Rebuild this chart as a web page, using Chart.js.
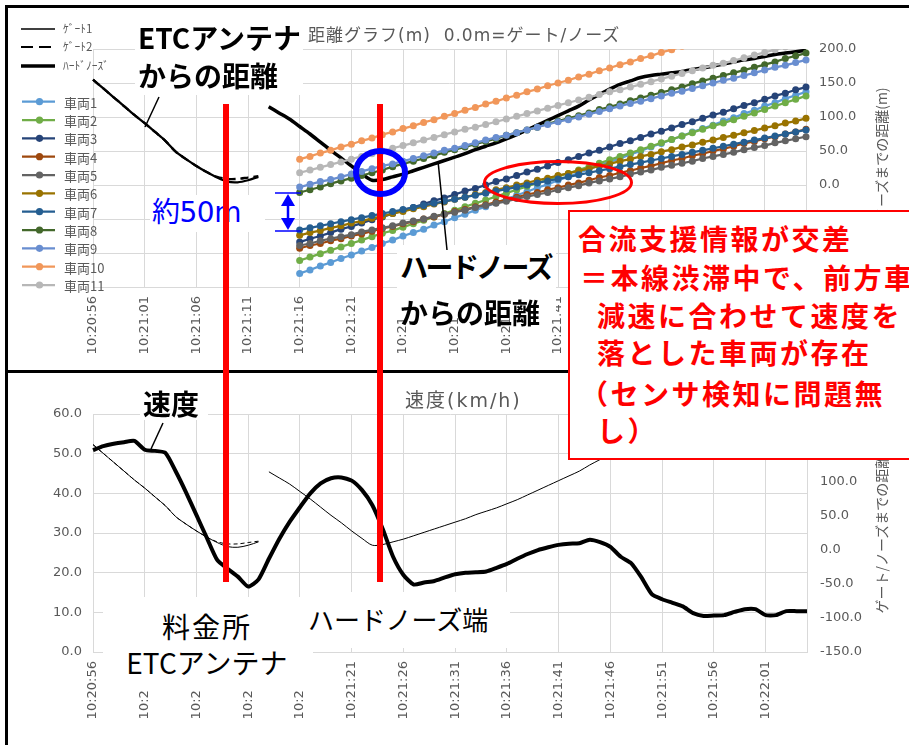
<!DOCTYPE html>
<html>
<head>
<meta charset="utf-8">
<title>距離グラフ / 速度</title>
<script src="https://cdn.jsdelivr.net/npm/chart.js@4.4.1/dist/chart.umd.min.js"></script>
<style>
    body { margin: 0; width: 909px; height: 745px; overflow: hidden; background: #fff; position: relative;
        font-family: "Noto Sans CJK JP", sans-serif; }
    canvas { position: absolute; left: 0; z-index: 0; }
    #topChart { top: 0; }
    #bottomChart { top: 372px; }
    .frame { position: absolute; background: #000; z-index: 1; }
    .box { position: absolute; background: #fff; z-index: 2; }
    .txt { position: absolute; white-space: nowrap; line-height: 1; z-index: 2; }
    svg { position: absolute; left: 0; top: 0; z-index: 3; }
    .redbox { position: absolute; left: 568px; top: 210px; width: 360px; height: 246px;
        border: 2px solid #ff0000; background: #fff; z-index: 4; }
    .red { color: #ff0000; font-weight: 700; font-size: 28px; letter-spacing: 2.5px; z-index: 5; }
</style>
</head>
<body>
<canvas id="topChart" width="909" height="372"></canvas>
<canvas id="bottomChart" width="909" height="373"></canvas>
<div id="overlay"></div>

<script>
'use strict';

// 時刻ラベル 10:20:56 から 1 秒ごと
const times = [];
for (let s = 0; s < 70; s++) {
    const sec = 56 + s;
    times.push('10:' + (20 + Math.floor(sec / 60)) + ':' + String(sec % 60).padStart(2, '0'));
}

// ゲート/ノーズまでの距離(m)
const gate1 = [155, 142, 129, 116, 103, 91, 78, 65, 49, 38, 28, 19, 11, 5, 4, 7, 12];
const gate2 = [155, 142, 129, 116, 103, 91, 78, 65, 49, 38, 28, 19, 12, 9, 9, 11, 13];
const hardNose = [115, 106, 97, 86, 75, 63, 51, 40, 28, 17, 7, 8, 12, 16, 21, 26, 31, 36, 41, 46,
    52, 57, 62, 68, 74, 81, 88, 95, 102, 109, 116, 125, 133, 141, 148, 153, 158, 161, 163, 165,
    167, 170, 172, 175, 178, 181, 184, 186, 189, 192, 194, 196, 198];

// 車両の距離(m) 10:21:16 から
const car1 = [-130, -125, -119, -114, -108, -103, -97, -92, -86, -81, -75, -70, -65, -59, -54, -48, -43, -37, -32, -26,
    -21, -15, -10, -4, 1, 7, 12, 18, 23, 29, 34, 39, 45, 50, 56, 61, 67, 72, 78, 83,
    88, 94, 99, 105, 110, 116, 121, 127, 132, 137];
const car2 = [-111, -106, -101, -96, -91, -86, -81, -76, -71, -67, -62, -57, -52, -47, -42, -37, -32, -27, -22, -17,
    -12, -7, -2, 3, 8, 13, 17, 22, 27, 32, 37, 42, 47, 52, 57, 62, 67, 72, 77, 82,
    87, 91, 96, 101, 106, 111, 116, 121, 126, 131];
const car3 = [-84, -79, -75, -70, -65, -61, -56, -51, -47, -42, -37, -33, -28, -23, -19, -14, -9, -5, 0, 5,
    9, 14, 19, 23, 28, 33, 37, 42, 47, 51, 56, 61, 65, 70, 75, 79, 84, 89, 93, 98,
    103, 107, 112, 117, 121, 126, 131, 135, 140, 144];
const car4 = [-93, -89, -86, -82, -79, -75, -72, -68, -64, -61, -57, -54, -50, -47, -43, -39, -36, -32, -29, -25,
    -22, -18, -14, -11, -7, -4, 0, 3, 7, 11, 14, 18, 21, 25, 28, 32, 36, 39, 43, 46,
    50, 53, 57, 61, 64, 68, 71, 75, 78, 82];
const car5 = [-89, -86, -82, -79, -76, -73, -69, -66, -63, -60, -56, -53, -50, -46, -43, -40, -37, -33, -30, -27,
    -24, -20, -17, -14, -11, -7, -4, -1, 3, 6, 9, 12, 16, 19, 22, 26, 29, 32, 35, 39,
    42, 45, 48, 52, 55, 58, 62, 65, 68, 71];
const car6 = [-74, -70, -67, -63, -60, -56, -53, -49, -46, -42, -39, -35, -32, -28, -25, -21, -18, -14, -11, -7,
    -4, 0, 3, 7, 10, 14, 17, 21, 24, 28, 31, 35, 38, 42, 45, 49, 52, 56, 59, 63,
    66, 70, 73, 77, 80, 84, 87, 91, 94, 98];
const car7 = [-66, -63, -60, -57, -54, -51, -48, -45, -42, -39, -36, -33, -30, -27, -24, -21, -18, -15, -12, -9,
    -6, -3, 0, 3, 6, 9, 12, 15, 18, 21, 24, 27, 30, 33, 36, 39, 42, 45, 48, 51,
    54, 57, 60, 63, 66, 69, 72, 75, 78, 81];
const car8 = [-11, -7, -3, 2, 6, 10, 14, 18, 22, 27, 31, 35, 39, 43, 48, 52, 56, 60, 64, 68,
    73, 77, 81, 85, 90, 94, 98, 102, 106, 111, 115, 119, 124, 128, 132, 136, 140, 144, 149, 153,
    157, 161, 165, 169, 173, 177, 181, 186, 190, 194];
const car9 = [-3, 1, 5, 8, 12, 16, 20, 24, 28, 31, 35, 39, 43, 47, 51, 54, 58, 62, 66, 70,
    73, 77, 81, 85, 89, 93, 96, 100, 104, 108, 112, 116, 120, 123, 127, 131, 135, 138, 142, 146,
    150, 154, 157, 161, 165, 169, 173, 176, 180, 184];
const car10 = [38, 42, 47, 51, 56, 60, 65, 69, 74, 78, 83, 87, 92, 96, 101, 105, 110, 114, 119, 123,
    128, 132, 137, 141, 146, 150, 154, 159, 163, 168, 172, 177, 181, 186, 190, 195, 199, 204, 208, 213,
    217, 222, 226, 231, 235, 240, 244, 249, 253, 258];
const car11 = [18, 22, 26, 30, 34, 38, 42, 46, 50, 54, 58, 62, 66, 70, 74, 78, 82, 85, 89, 93,
    97, 101, 105, 109, 113, 117, 121, 125, 129, 133, 137, 140, 144, 148, 152, 156, 160, 164, 168, 172,
    176, 179, 183, 187, 191, 195, 199, 203, 207, 211];

const cars = [car1, car2, car3, car4, car5, car6, car7, car8, car9, car10, car11];
const carNames = ['車両1', '車両2', '車両3', '車両4', '車両5', '車両6', '車両7', '車両8', '車両9', '車両10', '車両11'];
const carColors = ['#5b9bd5', '#70ad47', '#264478', '#9e480e', '#636363', '#997300',
    '#255e91', '#43682b', '#698ed0', '#f1975a', '#b7b7b7'];

// 速度(km/h)
const speed = [50.9, 51.9, 52.5, 52.9, 53.2, 51.0, 50.7, 50.2, 45.5, 40.2, 34.5, 28.8, 23.2, 21.0, 19.0, 16.5, 18.3, 23.5, 28.5, 32.8,
    36.5, 40.0, 42.5, 43.8, 44.0, 43.2, 40.8, 37.0, 31.0, 24.0, 19.4, 17.0, 17.5, 17.9, 18.8, 19.6, 20.0, 20.1, 20.3, 21.2,
    22.2, 23.5, 24.7, 25.7, 26.4, 27.0, 27.3, 27.4, 28.3, 27.7, 26.5, 24.0, 22.4, 18.8, 14.6, 13.3, 12.4, 11.5, 9.8, 9.1,
    9.2, 9.3, 10.1, 10.8, 10.8, 9.3, 9.3, 10.3, 10.3, 10.3];

// null で埋めて 70 秒分にそろえる
function pad(start, arr) {
    const out = new Array(start).fill(null).concat(arr);
    while (out.length < times.length) out.push(null);
    return out;
}

const gray = '#595959';
const gridColor = '#d9d9d9';
const tickFont = { family: 'DejaVu Sans', size: 13 };

function timeAxis(height) {
    return {
        type: 'category',
        afterFit: (scale) => { scale.height = height; },
        grid: {
            color: (ctx) => (ctx.index % 5 === 0 ? gridColor : 'rgba(0,0,0,0)'),
            drawTicks: false,
        },
        border: { color: gridColor },
        ticks: {
            autoSkip: false, maxRotation: 90, minRotation: 90, padding: 9,
            color: gray, font: tickFont,
            callback: (v, i) => (i % 5 === 0 ? times[i] : ''),
        },
    };
}

function valueAxis(pos, min, max, step, width, pad, grid) {
    return {
        position: pos, min: min, max: max,
        afterFit: (scale) => { scale.width = width; },
        grid: { color: gridColor, drawTicks: false, drawOnChartArea: grid },
        border: { color: gridColor },
        ticks: { stepSize: step, padding: pad, color: gray, font: tickFont, callback: (v) => v.toFixed(1) },
    };
}

/* 上: 距離グラフ */
const topSets = cars.map((arr, i) => ({
    label: carNames[i],
    data: pad(20, arr),
    borderColor: carColors[i],
    backgroundColor: carColors[i],
    borderWidth: 2.25,
    pointRadius: 3.5,
    pointBorderWidth: 0,
    order: 12 - i,
}));
topSets.push(
    { label: 'ｹﾞｰﾄ1', data: pad(0, gate1), borderColor: '#000', borderWidth: 2.3, pointRadius: 0, tension: 0.3, order: 20 },
    { label: 'ｹﾞｰﾄ2', data: pad(0, gate2), borderColor: '#000', borderWidth: 2.3, borderDash: [8, 5], pointRadius: 0, tension: 0.3, order: 21 },
    { label: 'ﾊｰﾄﾞﾉｰｽﾞ', data: pad(17, hardNose), borderColor: '#000', borderWidth: 3.5, pointRadius: 0, tension: 0.3, order: 19 }
);

new Chart(document.getElementById('topChart'), {
    type: 'line',
    data: { labels: times, datasets: topSets },
    options: {
        responsive: false,
        animation: false,
        layout: { padding: { left: 93, top: 49, right: 0, bottom: 0 } },
        plugins: { legend: { display: false }, tooltip: { enabled: false } },
        scales: {
            x: timeAxis(85),
            y: valueAxis('right', -150, 200, 50, 103, 13, true),
        },
    },
});

/* 下: 速度 */
new Chart(document.getElementById('bottomChart'), {
    type: 'line',
    data: {
        labels: times,
        datasets: [
            { label: '速度', data: speed, yAxisID: 'y', borderColor: '#000', borderWidth: 4, pointRadius: 0, tension: 0.2 },
            { label: 'ｹﾞｰﾄ1', data: pad(0, gate1), yAxisID: 'y2', borderColor: '#000', borderWidth: 1, pointRadius: 0, tension: 0.3 },
            { label: 'ｹﾞｰﾄ2', data: pad(0, gate2), yAxisID: 'y2', borderColor: '#000', borderWidth: 1, borderDash: [4, 3], pointRadius: 0, tension: 0.3 },
            { label: 'ﾊｰﾄﾞﾉｰｽﾞ', data: pad(17, hardNose), yAxisID: 'y2', borderColor: '#000', borderWidth: 1, pointRadius: 0, tension: 0.3 },
        ],
    },
    options: {
        responsive: false,
        animation: false,
        layout: { padding: { left: 0, top: 42, right: 0, bottom: 0 } },
        plugins: { legend: { display: false }, tooltip: { enabled: false } },
        scales: {
            x: timeAxis(93),
            y: valueAxis('left', 0, 60, 10, 93, 11, true),
            y2: valueAxis('right', -150, 200, 50, 102, 13, false),
        },
    },
});

/* 注記・凡例 (HTML と SVG) */
const overlay = document.getElementById('overlay');

function addDiv(cls, css, text) {
    const d = document.createElement('div');
    d.className = cls;
    d.style.cssText = css;
    if (text !== undefined) d.textContent = text;
    overlay.appendChild(d);
    return d;
}
// 左端 x, 中心 y
function text(str, x, cy, css, cls) {
    return addDiv('txt ' + (cls || ''), 'left:' + x + 'px;top:' + cy + 'px;transform:translateY(-50%);' + css, str);
}
function ctext(str, cx, cy, css) {
    return addDiv('txt', 'left:' + cx + 'px;top:' + cy + 'px;transform:translate(-50%,-50%);' + css, str);
}
function box(x, y, w, h) {
    addDiv('box', 'left:' + x + 'px;top:' + y + 'px;width:' + w + 'px;height:' + h + 'px;');
}

// 枠線
addDiv('frame', 'left:5px;top:5px;width:3px;height:745px;');
addDiv('frame', 'left:5px;top:5px;width:904px;height:3px;');
addDiv('frame', 'left:5px;top:370px;width:904px;height:3px;');

// タイトル
text('距離グラフ(m)\u00a0\u00a00.0m=ゲート/ノーズ', 308, 35,
    'font-family:"DejaVu Sans","Noto Sans CJK JP";font-size:17px;letter-spacing:1px;color:' + gray);
text('速度(km/h)', 405, 400,
    'font-family:"DejaVu Sans","Noto Sans CJK JP";font-size:19px;letter-spacing:2px;color:' + gray);

// 右軸タイトル
['178', '523'].forEach((cy) => {
    addDiv('txt', 'left:881px;top:' + cy + 'px;transform:translate(-50%,-50%) rotate(-90deg);font-size:14px;color:' + gray,
        'ゲート/ノーズまでの距離(m)');
});

// 凡例
const gateNames = ['ｹﾞｰﾄ1', 'ｹﾞｰﾄ2', 'ﾊｰﾄﾞﾉｰｽﾞ'];
const gateRows = [29, 47, 66];
gateNames.forEach((n, i) => text(n, 63, gateRows[i], 'font-size:11.5px;color:' + gray));
carNames.forEach((n, i) => text(n, 64, 101.7 + i * 18.33, 'font-size:13px;color:' + gray));

// 白抜きの注記
box(135, 18, 168, 77);
text('ETCアンテナ', 138, 37, 'font-size:28px;font-weight:700;');
text('からの距離', 138, 75, 'font-size:28px;font-weight:700;');
box(397, 245, 159, 71);
text('ハードノーズ', 400, 266, 'font-size:28px;font-weight:700;letter-spacing:-2.5px;');
text('からの距離', 400, 312, 'font-size:28px;font-weight:700;');
box(150, 195, 115, 37);
text('約50m', 152, 213, 'font-family:"DejaVu Sans","Noto Sans CJK JP";font-size:28px;letter-spacing:-0.5px;color:#0000ff;');
box(140, 388, 68, 32);
text('速度', 143, 403, 'font-size:28px;font-weight:700;');
box(103, 597, 210, 92);
ctext('料金所', 207, 626, 'font-size:28px;letter-spacing:2px;');
ctext('ETCアンテナ', 207, 662, 'font-size:28px;');
box(300, 592, 210, 56);
text('ハードノーズ端', 308, 619, 'font-size:26px;');

// 赤枠の説明
addDiv('redbox', '');
const redLines = [
    ['合流支援情報が交差', 578, 238],
    ['＝本線渋滞中で、前方車', 580, 277],
    ['減速に合わせて速度を', 597, 315],
    ['落とした車両が存在', 597, 352],
    ['（センサ検知に問題無', 580, 393],
    ['し）', 597, 430],
];
redLines.forEach((l) => text(l[0], l[1], l[2], '', 'red'));

// SVG 図形
const NS = 'http://www.w3.org/2000/svg';
const svg = document.createElementNS(NS, 'svg');
svg.setAttribute('width', 909);
svg.setAttribute('height', 745);
function shape(tag, attrs) {
    const el = document.createElementNS(NS, tag);
    for (const k in attrs) el.setAttribute(k, attrs[k]);
    svg.appendChild(el);
}

// 凡例の線とマーカー
shape('line', { x1: 21, y1: 29, x2: 55, y2: 29, stroke: '#000', 'stroke-width': 1.5 });
shape('line', { x1: 21, y1: 47, x2: 55, y2: 47, stroke: '#000', 'stroke-width': 2.2, 'stroke-dasharray': '12 6' });
shape('line', { x1: 21, y1: 66, x2: 55, y2: 66, stroke: '#000', 'stroke-width': 3.5 });
carColors.forEach((c, i) => {
    const y = 101.7 + i * 18.33;
    shape('line', { x1: 22, y1: y, x2: 55, y2: y, stroke: c, 'stroke-width': 2.25 });
    shape('circle', { cx: 39.5, cy: y, r: 3.6, fill: c });
});

// 引き出し線
shape('line', { x1: 159, y1: 97, x2: 145, y2: 127, stroke: '#000', 'stroke-width': 1.5 });
shape('line', { x1: 438, y1: 161, x2: 447, y2: 250, stroke: '#000', 'stroke-width': 1.5 });
shape('line', { x1: 163, y1: 423, x2: 151, y2: 449, stroke: '#000', 'stroke-width': 1.5 });

// 赤い縦線
shape('line', { x1: 226, y1: 104, x2: 226, y2: 582, stroke: '#ff0000', 'stroke-width': 6 });
shape('line', { x1: 380, y1: 104, x2: 380, y2: 582, stroke: '#ff0000', 'stroke-width': 6 });

// 丸印
shape('ellipse', { cx: 380.5, cy: 172.5, rx: 24.5, ry: 21.5, fill: 'none', stroke: '#0000ff', 'stroke-width': 6 });
shape('ellipse', { cx: 558, cy: 182.5, rx: 73.5, ry: 21, fill: 'none', stroke: '#ff0000', 'stroke-width': 3 });

// 約50m の矢印
shape('line', { x1: 275, y1: 193, x2: 301, y2: 193, stroke: '#0000ff', 'stroke-width': 1.5 });
shape('line', { x1: 275, y1: 231, x2: 301, y2: 231, stroke: '#0000ff', 'stroke-width': 1.5 });
shape('line', { x1: 288, y1: 200, x2: 288, y2: 224, stroke: '#0000ff', 'stroke-width': 2.5 });
shape('polygon', { points: '288,194 281,206 295,206', fill: '#0000ff' });
shape('polygon', { points: '288,230 281,218 295,218', fill: '#0000ff' });

overlay.appendChild(svg);
</script>
</body>
</html>
